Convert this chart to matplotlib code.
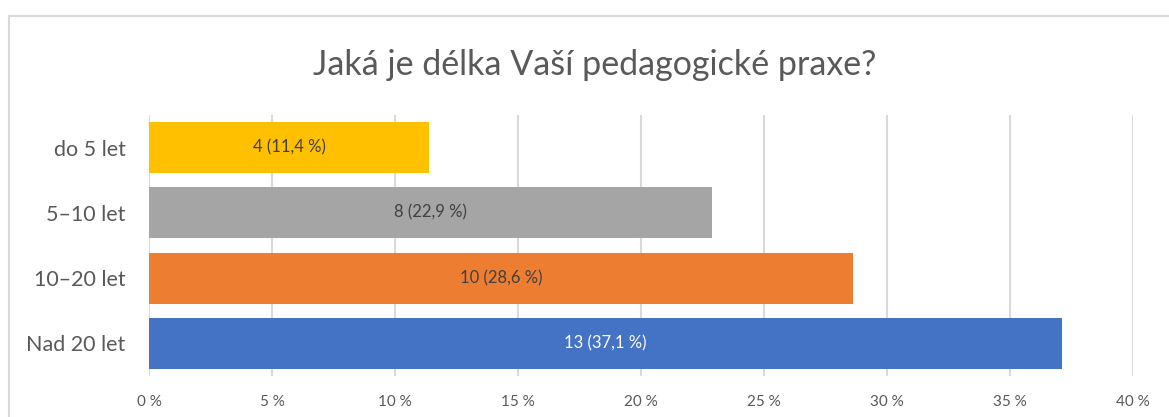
import matplotlib.pyplot as plt
from matplotlib.patches import Rectangle

categories = ["do 5 let", "5–10 let", "10–20 let", "Nad 20 let"]
counts = [4, 8, 10, 13]
percents = [11.4, 22.9, 28.6, 37.1]
colors = ["#FFC000", "#A5A5A5", "#ED7D31", "#4472C4"]
label_colors = ["#404040", "#404040", "#404040", "white"]
xticks = [0, 5, 10, 15, 20, 25, 30, 35, 40]

plt.rcParams['font.family'] = ['Lato', 'DejaVu Sans']
text_color = "#595959"

fig = plt.figure(figsize=(11.69, 4.17), dpi=100)
W, H = 1169, 417

# chart frame (cropped at right and bottom)
fig.patches.append(Rectangle((9 / W, -0.1), 1.2, 1 - 16 / H + 0.1,
                             transform=fig.transFigure, fill=False,
                             edgecolor="#d9d9d9", linewidth=1.5))

ax = fig.add_axes([149 / W, 1 - 376 / H, (1133 - 149) / W, (376 - 115) / H])

ypos = list(range(len(categories)))
ax.barh(ypos, percents, height=0.78, color=colors, zorder=3)

for y, c, p, lc in zip(ypos, counts, percents, label_colors):
    ax.text(p / 2, y, f"{c} ({str(p).replace('.', ',')} %)", ha="center",
            va="center", fontsize=12, color=lc, zorder=4)

ax.set_xlim(0, 40)
ax.set_ylim(len(categories) - 0.5, -0.5)
ax.set_xticks(xticks)
ax.set_xticklabels([f"{t} %" for t in xticks])
ax.set_yticks(ypos)
ax.set_yticklabels(categories)
ax.tick_params(axis="x", length=0, pad=14, labelsize=11, labelcolor=text_color)
ax.tick_params(axis="y", length=0, pad=17, labelsize=15.5, labelcolor=text_color)
ax.grid(axis="x", color="#d9d9d9", linewidth=1.5, zorder=0)
for s in ax.spines.values():
    s.set_visible(False)

fig.text(595 / W, 1 - 65 / H, "Jaká je délka Vaší pedagogické praxe?",
         ha="center", va="center", fontsize=24.5, color=text_color)

fig.savefig("out.png", dpi=100)
